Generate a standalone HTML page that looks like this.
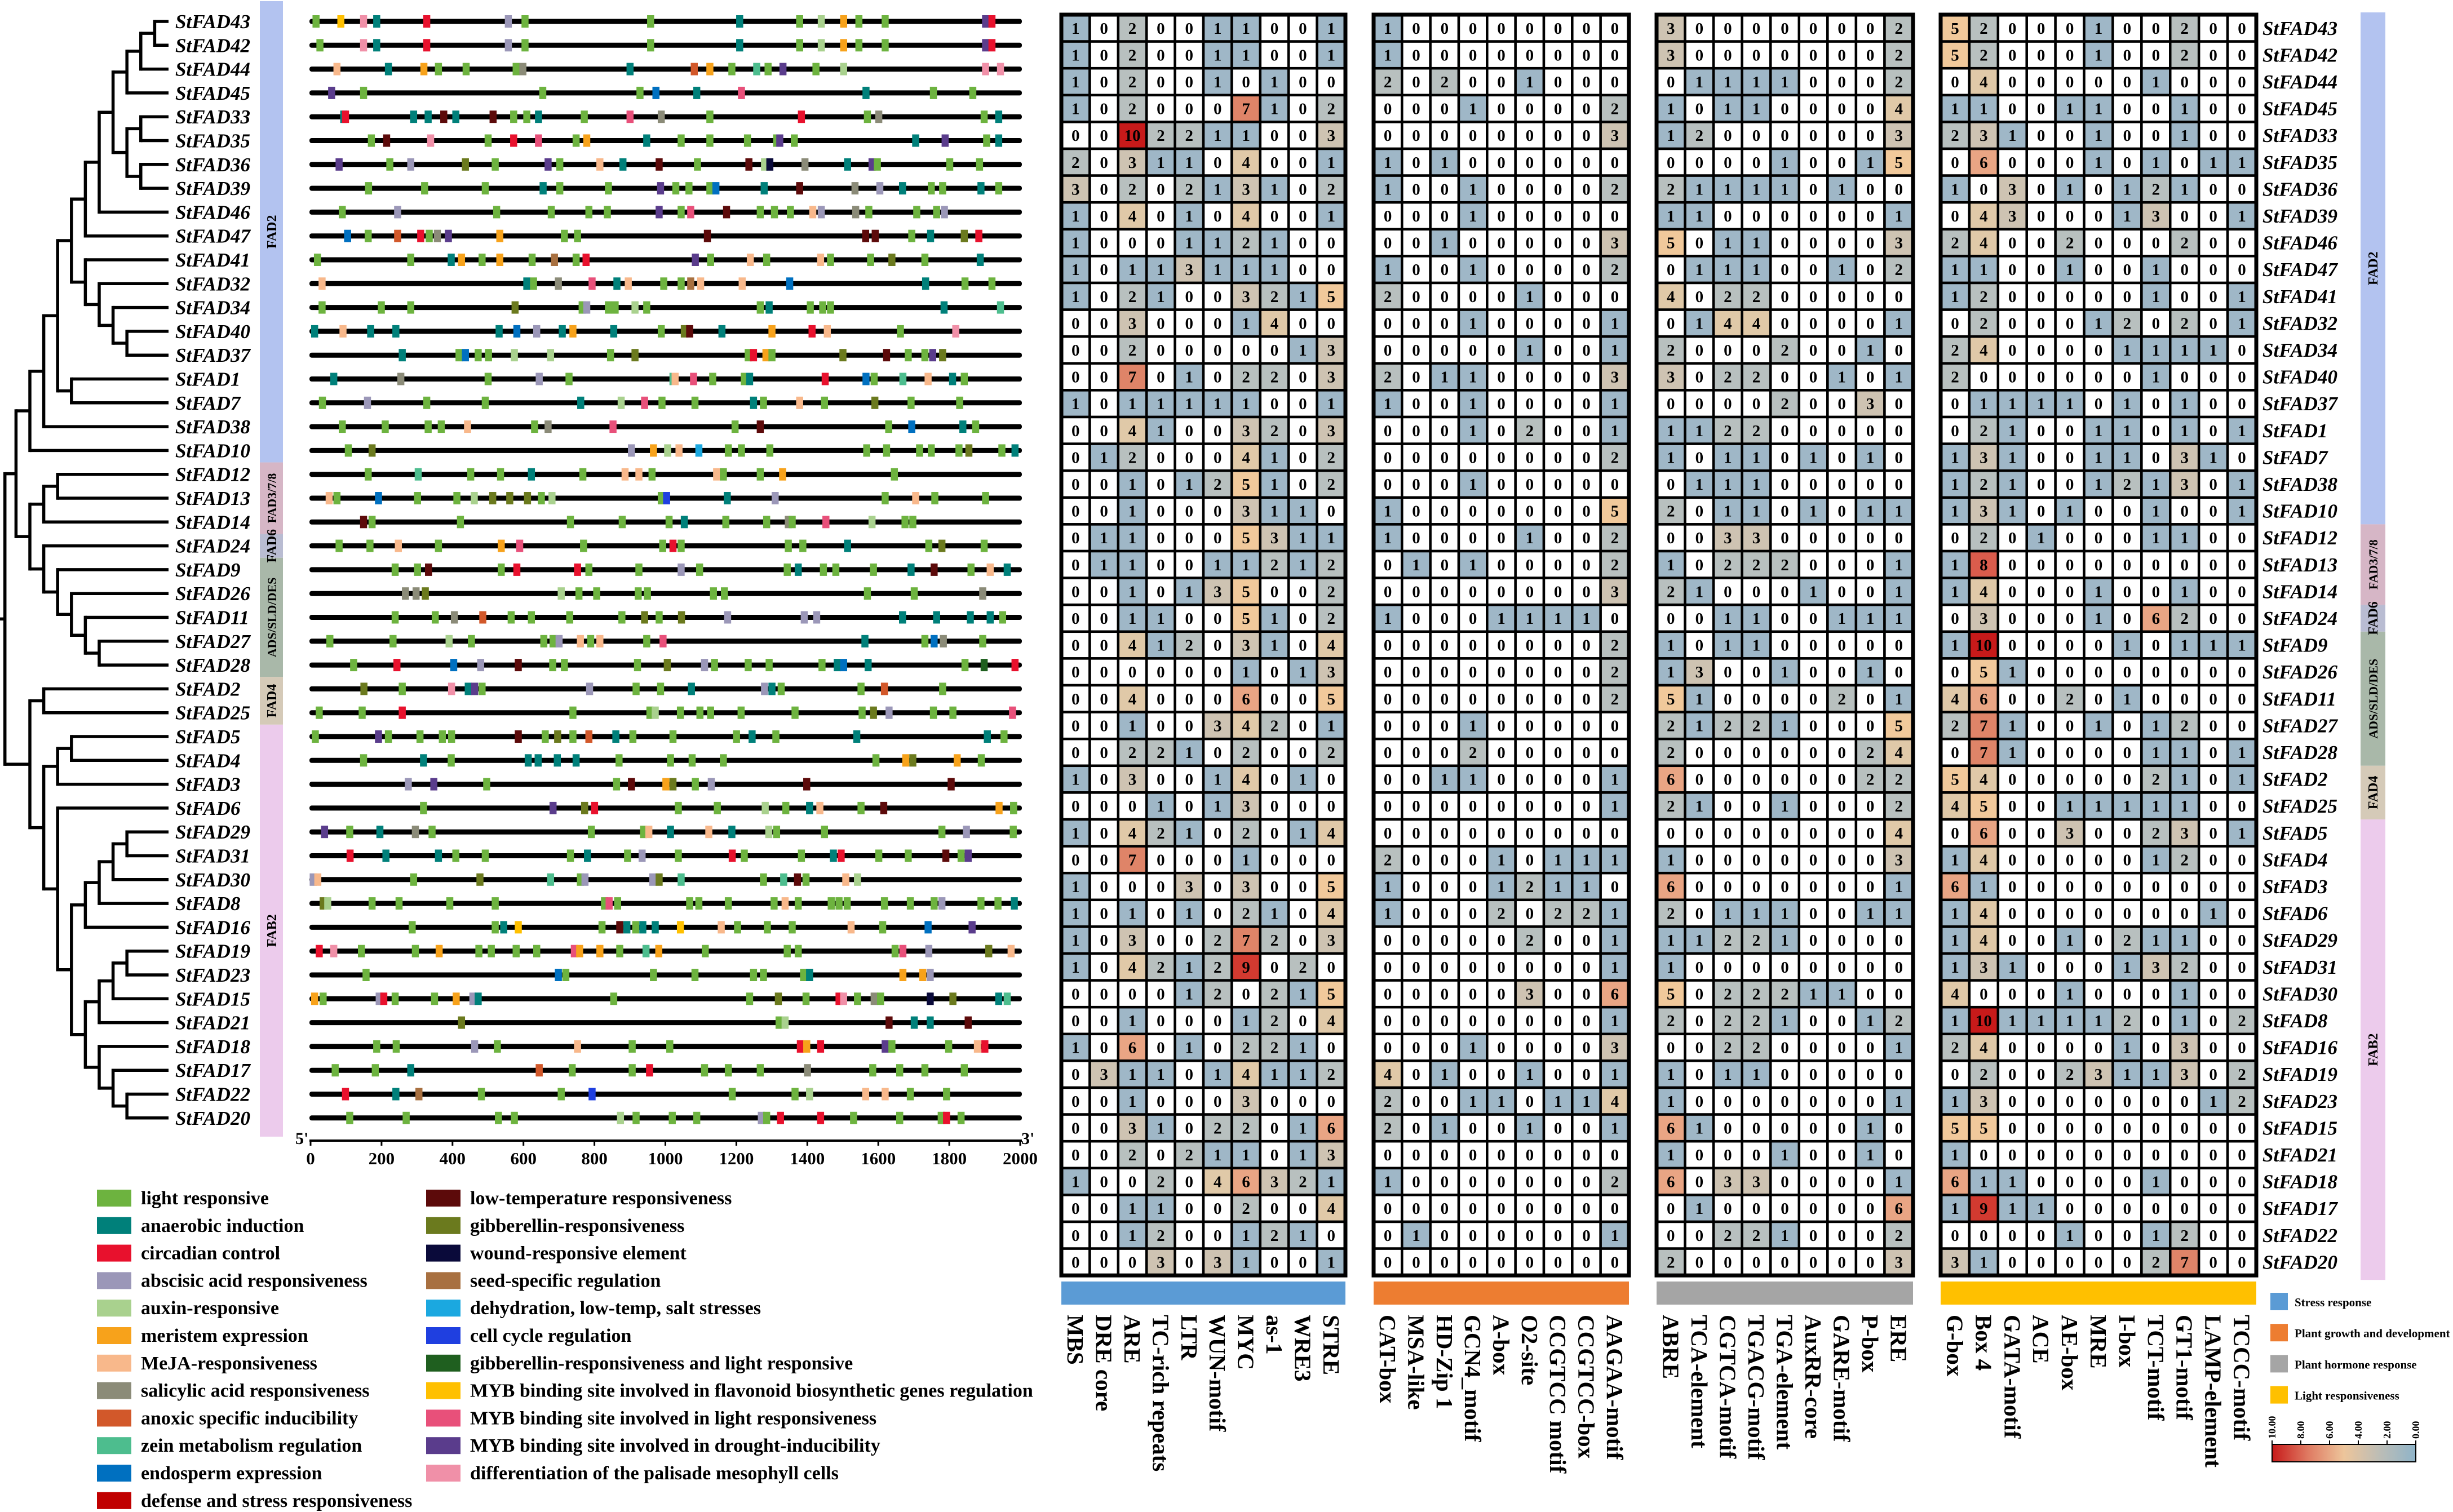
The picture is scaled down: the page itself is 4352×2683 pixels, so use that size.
<!DOCTYPE html>
<html><head><meta charset="utf-8"><style>
html,body{margin:0;padding:0;background:#fff;}
svg{display:block;}
text{font-family:"Liberation Serif",serif;font-weight:bold;}
</style></head><body>
<svg id="fig" xmlns="http://www.w3.org/2000/svg" width="4352" height="2683" viewBox="0 0 4352 2683">
<g id="tree"></g>
<g id="groups"></g>
<g id="grouplabels"></g>
<g id="genes"></g>
<g id="axis"></g>
<g id="legend"></g>
<g id="heat"></g>
<g id="rlegend"></g>
</svg>
<script>
const genes = ['StFAD43','StFAD42','StFAD44','StFAD45','StFAD33','StFAD35','StFAD36','StFAD39','StFAD46','StFAD47','StFAD41','StFAD32','StFAD34','StFAD40','StFAD37','StFAD1','StFAD7','StFAD38','StFAD10','StFAD12','StFAD13','StFAD14','StFAD24','StFAD9','StFAD26','StFAD11','StFAD27','StFAD28','StFAD2','StFAD25','StFAD5','StFAD4','StFAD3','StFAD6','StFAD29','StFAD31','StFAD30','StFAD8','StFAD16','StFAD19','StFAD23','StFAD15','StFAD21','StFAD18','StFAD17','StFAD22','StFAD20'];
const groupNames = ['FAD2','FAD3/7/8','FAD6','ADS/SLD/DES','FAD4','FAB2'];
const groupStart = [0,19,22,23,28,30];
const groupEnd = [18,21,22,27,29,46];
const groupColors = ['#b3c3f0','#d6b6c6','#b9bcd2','#a9b8a9','#d5cab8','#eccbec'];
const tickLabels = [0,200,400,600,800,1000,1200,1400,1600,1800,2000];
const motifCodes = 'gtraxomsnzedlbwqkcGypuf';
const motifColors = ['#6db33f','#00807a','#e8112d','#9b97b8','#a9d18e','#f7a21b','#f8b88b','#8b8b78','#d2582a','#4dbd8e','#0070c0','#c00000','#5c0a0a','#6b7a1e','#0a0a3a','#a87040','#1ba8e0','#1f3fe0','#1f5f1f','#ffc000','#e8507a','#5a3c8c','#f090a8'];
const motifNames = ['light responsive','anaerobic induction','circadian control','abscisic acid responsiveness','auxin-responsive','meristem expression','MeJA-responsiveness','salicylic acid responsiveness','anoxic specific inducibility','zein metabolism regulation','endosperm expression','defense and stress responsiveness','low-temperature responsiveness','gibberellin-responsiveness','wound-responsive element','seed-specific regulation','dehydration, low-temp, salt stresses','cell cycle regulation','gibberellin-responsiveness and light responsive','MYB binding site involved in flavonoid biosynthetic genes regulation','MYB binding site involved in light responsiveness','MYB binding site involved in drought-inducibility','differentiation of the palisade mesophyll cells'];
const motifs = [
"15g 85y 149f 186t 327r 557a 604g 958g 1209t 1378g 1439x 1502o 1545g 1619g 1902u 1920r",
"26g 149f 186t 327r 557a 604g 958g 1209t 1378g 1439x 1502o 1545g 1619g 1902u 1920r",
"74m 219t 319o 360g 438g 579g 598s 900t 1081n 1125o 1187g 1257z 1289g 1331u 1424g 1502x 1902f 1944f",
"59u 149g 654g 928g 973e 1088t 1214p 1565t 1755g 1866g",
"93t 98r 290t 331t 375l 409t 514l 572g 609g 642t 771g 900p 988s 1125g 1383r 1569g 1601s 1898g 1939t",
"171g 214l 338f 500g 572r 642p 748g 778o 947t 1044g 1125g 1231g 1313g 1322u 1363g 1705t 1788u 1905g 1939t",
"80u 223g 282a 436b 520g 669u 702g 815m 880t 982l 1090g 1235l 1279x 1294w 1393s 1513t 1582u 1597g 1801g 1885g",
"163g 321g 492g 655t 702g 839g 986u 1029g 1066g 1125g 1142e 1278t 1378l 1534s 1604a 1668t 1749g 1781g 1889t 1939g",
"89g 245a 524g 678g 784g 836g 982u 1044g 1071p 1172l 1267g 1307g 1352g 1415m 1439a 1536s 1573g 1708g 1764g 1786a",
"104e 162g 245n 310r 334g 357s 388u 533o 715g 752g 1118l 1564l 1591l 1694g 1747t 1842b 1883r",
"19g 282g 396t 425o 483g 533o 624g 687q 748g 776r 1084u 1127g 1239m 1285g 1437m 1465g 1578g 1638b 1731g 1887t",
"32m 609t 628g 698s 793p 863t 895m 995g 1044g 1071q 1099m 1216m 1350e 1733t 1844g 1920g",
"32g 199g 282g 576b 765g 778a 839g 858g 914x 947g 1267g 1292t 1408g 1443g 1465g 1785t 1944z",
"11t 91m 169t 240t 531t 581e 637a 709t 739o 854t 988g 1053b 1068l 1159t 1300o 1413r 1456m 1662g 1818f",
"258t 418g 436e 472g 501g 574x 676x 845g 914b 1233g 1248r 1283o 1300g 1500b 1623l 1684g 1731g 1753u 1781b",
"65t 254s 500g 644a 728g 1021z 1027m 1079p 1133g 1222g 1237t 1450r 1565e 1588g 1669z 1740m 1809t 1842g",
"33g 160a 327g 492g 761t 875x 941p 990g 1083g 1248t 1276g 1378m 1448g 1590b 1692g 1829g",
"89g 210g 331g 368g 442m 631g 669s 852p 1196g 1267l 1629g 1694e 1838t 1874g",
"106g 173b 904a 966o 1006x 1038m 1094k 1177g 1214g 1294g 1567g 1623g 1716g 1749g 1827g 1855b 1948g 1985t",
"162g 303z 451g 535g 622t 767g 886m 925m 962g 1144m 1163g 1267g 1330o 1645g",
"52m 74g 191e 301g 412g 461x 513b 561b 611b 650g 680x 988g 1003c 1174t 1309a 1619g 1705m 1759g 1902g",
"149l 173g 422g 732g 878g 1010g 1053t 1170g 1285g 1346s 1357g 1452p 1582x 1675g 1697g",
"80g 167g 247m 360g 537o 589p 769g 992g 1021r 1044g 1346g 1387g 1513t 1742g 1779b 1898g",
"238g 301g 332l 537g 581r 752r 784g 925g 1044a 1096g 1343g 1374t 1445g 1480g 1586g 1692t 1757l 1861g 1915m 1963t",
"267s 297s 323b 706x 756g 806g 923g 949g 1135g 1166g 1569g 1701g 1894s",
"238g 351g 405s 485n 565g 622g 730g 877g 941b 982g 1045b 1175a 1391a 1426a 1668t 1764t 1859t 1915t 1950g",
"54g 232g 390x 453g 657g 683g 700a 760m 789g 815m 947g 993p 1562t 1731g 1757e 1783s 1894g",
"121g 243r 403e 479a 585l 682g 715g 921g 1005b 1110a 1138g 1233g 1292g 1441g 1484t 1502e 1571t 1844g 1898G 1985r",
"150b 258g 397f 444t 462u 483g 786a 917g 986g 1073t 1279a 1300t 1326g 1551g 1617n 1781g",
"24g 145g 258r 739g 956g 971x 1042g 1097g 1127g 1213g 1365g 1554g 1586b 1630a 1755g 1810g 1978p",
"13g 191u 219g 308g 371g 397g 585l 661g 696b 739g 784n 860t 908g 1021g 1200g 1244t 1311g 1539t 1907t 1954g",
"149g 318t 396g 613t 641t 695t 748t 869g 1014g 1075g 1163g 1593g 1677o 1697b 1822o 1890g",
"275a 347u 496g 862g 904l 1001o 1021b 1084g 1129a 1398l 1805l",
"318g 683u 772b 800r 1036g 1146g 1281x 1339g 1406t 1435m 1551g 1615l 1940o 1981g",
"39u 110g 195t 295s 342g 791g 938g 953m 1014t 1122m 1187t 1291x 1313g 1448g 1779g 1848a 1980g",
"111r 212t 360t 409g 492g 732g 780t 893g 934a 1036g 1188r 1222g 1383g 1473t 1495r 1601g 1684g 1790l 1833g 1853u",
"7a 20m 290g 477b 676z 760g 773a 964a 982b 1044z 1276g 1333z 1372l 1396g 1508m 1541x",
"35b 48x 173g 249g 392g 520g 828g 841p 865g 1068g 1094g 1177g 1306g 1337m 1374g 1467g 1489g 1512g 1617g 1690g 1757g 1779a 1889g 1937g 1983t",
"286g 520g 544t 585y 821g 871l 891t 916g 936t 971t 1042y 1157m 1203g 1287g 1357g 1523m 1612g 1740e 1864u",
"24r 65f 143g 295g 362o 474g 509g 579g 637g 743p 758o 815o 871g 945z 981o 1112g 1343g 1374g 1647g 1669p 1742a 1911b 1974m",
"156g 698e 719g 966g 1083g 1248g 1276g 1389g 1406t 1669o 1725o 1746a",
"11o 35g 193a 206r 238g 349g 410o 457a 472t 854g 1237g 1318b 1396g 1489r 1502f 1541g 1588s 1606g 1746w 1810b 1939t 1963z",
"425b 1320g 1337x 1630l 1701t 1746t 1853l",
"186g 241g 462a 526g 752m 906g 1012g 1380r 1398o 1437r 1619u 1638g 1798g 1879m 1900r",
"69g 182g 282t 644n 737g 906g 955r 1110g 1177g 1267g 1400s 1584g 1660g 1731g 1842g",
"98r 240t 305q 481g 706g 793c 1188g 1365g 1406x 1564m 1619m 1690g 1792g",
"110g 269g 529g 574g 873x 917g 1019g 1088g 1270a 1285g 1324r 1437r 1530g 1660g 1777g 1792r 1833g"
];
const A_=[4,[3,[2,[1,'StFAD43','StFAD42'],'StFAD44'],'StFAD45'],[3,[2,'StFAD33','StFAD35'],[2,'StFAD36','StFAD39']]];
const B_=[6,'StFAD41',[5,'StFAD32',[4,'StFAD34',[3,'StFAD40','StFAD37']]]];
const FAD2T=[10,[9,[8,[7,[6,[5,A_,'StFAD46'],'StFAD47'],B_],[7,'StFAD1','StFAD7']],'StFAD38'],'StFAD10'];
const F3T=[9,[8,'StFAD12','StFAD13'],'StFAD14'];
const ADST=[9,'StFAD24',[8,'StFAD9',[7,'StFAD26',[6,'StFAD11',[5,'StFAD27','StFAD28']]]]];
const FAD4T=[9,'StFAD2','StFAD25'];
const FAB2T=[9,[8,[7,'StFAD5','StFAD4'],'StFAD3'],[8,'StFAD6',[7,[6,[5,[4,[3,'StFAD29','StFAD31'],'StFAD30'],'StFAD8'],'StFAD16'],[6,[5,[4,[3,'StFAD19','StFAD23'],'StFAD15'],'StFAD21'],[5,'StFAD18',[4,'StFAD17',[3,'StFAD22','StFAD20']]]]]]];
const treeData=[11.8,[11,FAD2T,[10,F3T,ADST]],[10,FAD4T,FAB2T]];

const colsStress=['MBS','DRE core','ARE','TC-rich repeats','LTR','WUN-motif','MYC','as-1','WRE3','STRE'];
const colsGrowth=['CAT-box','MSA-like','HD-Zip 1','GCN4_motif','A-box','O2-site','CCGTCC motif','CCGTCC-box','AAGAA-motif'];
const colsHormone=['ABRE','TCA-element','CGTCA-motif','TGACG-motif','TGA-element','AuxRR-core','GARE-motif','P-box','ERE'];
const colsLight=['G-box','Box 4','GATA-motif','ACE','AE-box','MRE','I-box','TCT-motif','GT1-motif','LAMP-element','TCCC-motif'];
const valsStress=["1020011001","1020011001","1020010100","1020007102","00(10)2211003","2031104001","3020213102","1040104001","1000112100","1011311100","1021003215","0030001400","0020000013","0070102203","1011111001","0041003203","0120004102","0010125102","0010003110","0110005311","0110011212","0010135002","0011005102","0041203104","0000001013","0040006005","0010034201","0022102002","1030014010","0001013000","1042102014","0070001000","1000303005","1010102104","1030027203","1042129020","0000120215","0010001204","1060102210","0311014112","0010003000","0031022016","0020211013","1002046321","0011002004","0012001210","0003031001"];
const valsGrowth=["100000000","100000000","202001000","000100002","000000003","101000000","100100002","000100000","001000003","100100002","200001000","000100001","000001001","201100003","100100001","000102001","000000002","000100000","100000005","100001002","010100002","000000003","100011110","000000002","000000002","000000002","000100000","000200000","001100001","000000001","000000000","200010111","100012110","100020221","000002001","000000001","000003006","000000001","000100003","401001001","200110114","201001001","000000000","100000002","000000000","010000001","000000000"];
const valsHormone=["300000002","300000002","011110002","101100004","120000003","000010015","211110100","110000001","501100003","011100102","402200000","014400001","200020010","302200101","000020030","112200000","101101010","011100000","201101011","003300000","102220001","210001001","001100111","101100000","130010010","510000201","212210005","200000024","600000022","210010002","000000004","100000003","600000001","201110011","112210000","100000000","502221100","202210012","002200001","101100000","100000001","610000010","100010010","603300001","010000006","002210002","200000003"];
const valsLight=["52000100200","52000100200","04000001000","11001100100","23100100100","06000101011","10301012100","04300013001","24002000200","11001001000","12000001001","02000120201","24000011110","20000001000","01111010100","02100110101","13100110310","12100121301","13101001001","02010001100","18000000000","14000100100","03000106200","1(10)000010111","05100000000","46002010000","27100101200","07100001101","54000002101","45001111100","06003002301","14000001200","61000000000","14000000010","14001021100","13100013200","40001000100","1(10)111120102","24000010300","02002311302","13000000012","55000000000","10000000000","61100001000","19110000000","00001001200","31000002700"];

const NS='http://www.w3.org/2000/svg';
function mk(parent,tag,attrs,text){const e=document.createElementNS(NS,tag);for(const k in attrs)e.setAttribute(k,attrs[k]);if(text!==undefined)e.textContent=text;parent.appendChild(e);return e;}
function parseRow(s){const out=[];let i=0;while(i<s.length){if(s[i]==='('){const j=s.indexOf(')',i);out.push(+s.slice(i+1,j));i=j+1;}else{out.push(+s[i]);i++;}}return out;}

const rowY=i=>38+i*42.3;
const bpX=bp=>551+bp*0.6295;
const treeX=h=>299-h*24.6;
const hmTop=26, hmRow=47.6;
const hmY=i=>hmTop+i*hmRow;

const tg=document.getElementById('tree');
function drawNode(n){
  if(typeof n==='string'){return {x:299,y:rowY(genes.indexOf(n))};}
  const x=treeX(n[0]);const kids=n.slice(1).map(drawNode);
  const y0=kids[0].y,y1=kids[kids.length-1].y;
  const v=mk(tg,'line',{x1:x,y1:y0,x2:x,y2:y1,stroke:'#000','stroke-width':5.5,'stroke-linecap':'square'});
  
  
  kids.forEach(k=>{const h=mk(tg,'line',{x1:x,y1:k.y,x2:k.x,y2:k.y,stroke:'#000','stroke-width':5.5});
    
    });
  return {x:x,y:(y0+y1)/2};
}
const root=drawNode(treeData);
const rs=mk(tg,'line',{x1:0,y1:root.y,x2:root.x,y2:root.y,stroke:'#000','stroke-width':5.5});



genes.forEach((g,i)=>{
  const t=mk(tg,'text',{x:311,y:rowY(i)+12,'font-size':35,'font-style':'italic'},g);
  
  
  const t2=mk(document.getElementById('heat'),'text',{x:4014,y:hmY(i)+hmRow/2+12,'font-size':35,'font-style':'italic'},g);
  
  
});

const gg=document.getElementById('groups');
const gl=document.getElementById('grouplabels');
groupNames.forEach((nm,k)=>{
  const yA=k===0?2:rowY(groupStart[k])-21.15, yB=rowY(groupEnd[k])+21.15+(k===5?12:0);
  const r=mk(gg,'rect',{x:461,y:yA,width:41,height:yB-yA,fill:groupColors[k]});
  
  
  const cy=(yA+yB)/2;
  const t=mk(gl,'text',{x:0,y:0,'font-size':nm.length>6?22:24,'text-anchor':'middle',transform:`translate(490,${cy}) rotate(-90)`},nm);
  
  
  const yC=k===0?22:hmY(groupStart[k]), yD=hmY(groupEnd[k]+1)+(k===5?8:0);
  const r2=mk(gg,'rect',{x:4188,y:yC,width:44,height:yD-yC,fill:groupColors[k]});
  
  
  const t2=mk(gl,'text',{x:0,y:0,'font-size':nm.length>6?22:24,'text-anchor':'middle',transform:`translate(4218,${(yC+yD)/2}) rotate(-90)`},nm);
  
  
});

const gn=document.getElementById('genes');
genes.forEach((g,i)=>{
  const y=rowY(i);
  const l=mk(gn,'rect',{x:549,y:y-4.5,width:1264,height:9,fill:'#000',rx:4});
  
  
  motifs[i].split(' ').forEach(tok=>{
    const bp=+tok.slice(0,-1);const c=motifCodes.indexOf(tok.slice(-1));
    const r=mk(gn,'rect',{x:bpX(bp)-6,y:y-11,width:12.5,height:22,fill:motifColors[c]});
    
    
  });
});

const ax=document.getElementById('axis');
const al=mk(ax,'line',{x1:549,y1:2024,x2:1813,y2:2024,stroke:'#000','stroke-width':4});


tickLabels.forEach(v=>{
  const tk=mk(ax,'line',{x1:bpX(v),y1:2024,x2:bpX(v),y2:2033,stroke:'#000','stroke-width':3});
  
  
  const t=mk(ax,'text',{x:bpX(v),y:2066,'font-size':31,'text-anchor':'middle'},v);
  
  
});
const p5=mk(ax,'text',{x:524,y:2030,'font-size':30},"5'");


const p3=mk(ax,'text',{x:1812,y:2030,'font-size':30},"3'");



const lg=document.getElementById('legend');
motifNames.forEach((nm,k)=>{
  const col=k<12?0:1, r=k<12?k:k-12;
  const x=col?756:172, y=2126+r*48.8;
  const s=mk(lg,'rect',{x:x,y:y-15,width:61,height:30,fill:motifColors[k]});
  
  
  const t=mk(lg,'text',{x:x+78,y:y+11,'font-size':34},nm);
  
  
});

const pal=['#ffffff','#9fb7c7','#b8c0bf','#cec3b2','#e0c9a8','#f1c99b','#e9a584','#df8468','#da5c4c','#d23a30','#c71a1a'];
const hg=document.getElementById('heat');
const panels=[
  {cols:colsStress,vals:valsStress,x0:1883,x1:2387,cat:'#5b9bd5'},
  {cols:colsGrowth,vals:valsGrowth,x0:2437,x1:2890,cat:'#ed7d31'},
  {cols:colsHormone,vals:valsHormone,x0:2939,x1:3394,cat:'#a5a5a5'},
  {cols:colsLight,vals:valsLight,x0:3443,x1:4003,cat:'#ffc000'}];
panels.forEach(p=>{
  const cw=(p.x1-p.x0)/p.cols.length;
  p.vals.forEach((rowStr,i)=>{
    const row=parseRow(rowStr);
    row.forEach((v,j)=>{
      const x=p.x0+j*cw,y=hmY(i);
      const r=mk(hg,'rect',{x:x,y:y,width:cw,height:hmRow,fill:pal[Math.min(10,v)],stroke:'#000','stroke-width':4.5});
      
      
      const t=mk(hg,'text',{x:x+cw/2,y:y+hmRow/2+10,'font-size':29,'text-anchor':'middle',fill:'#000'},v);
      
      
    });
  });
  const b=mk(hg,'rect',{x:p.x0,y:hmTop,width:p.x1-p.x0,height:hmRow*47,fill:'none',stroke:'#000','stroke-width':7});
  
  
  const cb=mk(hg,'rect',{x:p.x0,y:2274,width:p.x1-p.x0,height:41,fill:p.cat});
  
  
  p.cols.forEach((c,j)=>{
    const cx=p.x0+j*cw+cw/2;
    const t=mk(hg,'text',{x:0,y:0,'font-size':41,transform:`translate(${cx-14},2333) rotate(90)`},c);
    
    
  });
});

const rl=document.getElementById('rlegend');
const catNames=['Stress response','Plant growth and development','Plant hormone response','Light responsiveness'];
const catColors=['#5b9bd5','#ed7d31','#a5a5a5','#ffc000'];
catNames.forEach((nm,k)=>{
  const y=2310+k*55.2;
  const s=mk(rl,'rect',{x:4028,y:y-16,width:31,height:31,fill:catColors[k]});
  
  
  const t=mk(rl,'text',{x:4071,y:y+8,'font-size':21},nm);
  
  
});
const defs=mk(document.getElementById('fig'),'defs',{});
const grad=mk(defs,'linearGradient',{id:'cg',x1:0,x2:1,y1:0,y2:0});
[['0','#c71a1a'],['0.25','#df7a62'],['0.5','#edc59b'],['0.75','#bcbdb6'],['1','#8fb4c9']].forEach(s=>mk(grad,'stop',{offset:s[0],'stop-color':s[1]}));
const cbar=mk(rl,'rect',{x:4031,y:2563,width:255,height:31,fill:'url(#cg)',stroke:'#000','stroke-width':2});


const scaleTicks=['10.00','8.00','6.00','4.00','2.00','0.00'];
scaleTicks.forEach((s,k)=>{
  const x=4031+k*51;
  mk(rl,'line',{x1:x,y1:2556,x2:x,y2:2563,stroke:'#000','stroke-width':2});
  const t=mk(rl,'text',{x:0,y:0,'font-size':18,transform:`translate(${x+6},2553) rotate(-90)`},s);
  
  
});
</script>
</body></html>
